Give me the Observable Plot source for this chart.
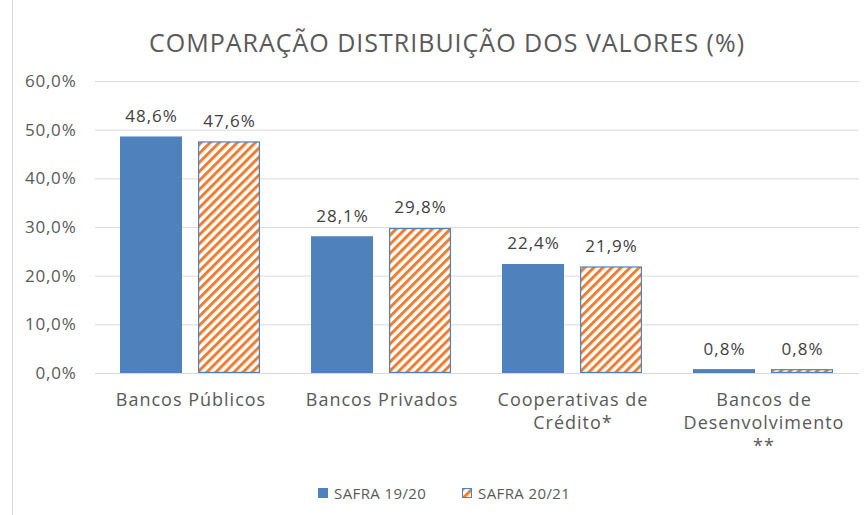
<!DOCTYPE html>
<html><head><meta charset="utf-8">
<script src="https://cdn.jsdelivr.net/npm/d3@7"></script>
<script src="https://cdn.jsdelivr.net/npm/@observablehq/plot@0.6"></script>
<style>
body{margin:0;background:#fff;font-family:"Open Sans",sans-serif;}
#frame{position:absolute;left:12px;top:-1px;width:900px;height:530px;border:1px solid #d9d9d9;box-sizing:border-box;}
#title{position:absolute;left:12px;width:870px;top:24px;text-align:center;font-size:25px;letter-spacing:1px;color:#595959;line-height:36px;}
#chart{position:absolute;left:0;top:60px;}
#legend{position:absolute;left:0;top:482px;width:868px;height:22px;font-size:15px;letter-spacing:0.4px;color:#595959;}
.li{position:absolute;top:0;display:flex;align-items:center;height:22px;}
.sw{width:10px;height:10px;margin-right:6px;box-sizing:border-box;}
</style></head>
<body>
<div id="frame"></div>
<div id="title">COMPARAÇÃO DISTRIBUIÇÃO DOS VALORES (%)</div>
<div id="chart"></div>
<div id="legend"></div>
<script>
const categories = ["Bancos Públicos", "Bancos Privados", "Cooperativas de\nCrédito*", "Bancos de\nDesenvolvimento\n**"];
const seriesNames = ["SAFRA 19/20", "SAFRA 20/21"];
const safra1920 = [48.6, 28.1, 22.4, 0.8];
const safra2021 = [47.6, 29.8, 21.9, 0.8];
const yTicks = [0, 10, 20, 30, 40, 50, 60];

const blue = "#4F81BD", orange = "#ED7D31";
const data = [];
categories.forEach((c, i) => {
  data.push({category: c, series: seriesNames[0], value: safra1920[i]});
  data.push({category: c, series: seriesNames[1], value: safra2021[i]});
});
const fmt = v => v.toFixed(1).replace(".", ",") + "%";

const plot = Plot.plot({
  width: 868, height: 420,
  marginLeft: 94, marginRight: 8, marginTop: 21, marginBottom: 107,
  style: {fontFamily: "'Open Sans', sans-serif", fontSize: "15px", color: "#595959", background: "transparent"},
  fx: {domain: categories, padding: 0, label: null},
  x: {domain: seriesNames, paddingInner: 0.2025, paddingOuter: 0.313, axis: null},
  y: {domain: [0, 60], label: null},
  marks: [
    Plot.gridY(yTicks, {stroke: "#d9d9d9", strokeOpacity: 1}),
    Plot.axisY(yTicks, {tickSize: 0, tickPadding: 19, tickFormat: fmt, label: null, fill: "#595959", fontSize: 17}),
    Plot.axisFx({anchor: "bottom", tickSize: 0, tickPadding: 16, lineHeight: 1.28, label: null, fill: "#595959", fontSize: 18}),
    Plot.barY(data.filter(d => d.series === seriesNames[0]), {fx: "category", x: "series", y: "value", fill: blue}),
    Plot.barY(data.filter(d => d.series === seriesNames[1]), {fx: "category", x: "series", y: "value", fill: "url(#hatch)", stroke: blue, strokeWidth: 1.2, inset: 0.6}),
    Plot.text(data, {fx: "category", x: "series", y: "value", text: d => fmt(d.value), dy: -15, lineAnchor: "bottom", fill: "#404040", fontSize: 17})
  ]
});

const svg = d3.select(plot);
svg.selectAll('g[aria-label="fx-axis tick label"]').style("letter-spacing", "1px");
svg.selectAll('g[aria-label="y-axis tick label"]').style("letter-spacing", "0.8px");
svg.selectAll('g[aria-label="text"]').style("letter-spacing", "1px");
const defs = svg.insert("defs", ":first-child");
const pat = defs.append("pattern").attr("id", "hatch").attr("patternUnits", "userSpaceOnUse")
  .attr("width", 6.4).attr("height", 6.4).attr("patternTransform", "rotate(45)");
pat.append("rect").attr("width", 6.4).attr("height", 6.4).attr("fill", "#fff");
pat.append("rect").attr("width", 3).attr("height", 6.4).attr("fill", orange);
document.getElementById("chart").appendChild(plot);

const legend = document.getElementById("legend");
legend.innerHTML = `
<div class="li" style="left:318px"><div class="sw" style="background:${blue}"></div>SAFRA 19/20</div>
<div class="li" style="left:462px"><svg width="10" height="10" style="margin-right:6px"><rect x="0.5" y="0.5" width="9" height="9" fill="url(#hatch)" stroke="${blue}"/></svg>SAFRA 20/21</div>`;
</script>
</body></html>
